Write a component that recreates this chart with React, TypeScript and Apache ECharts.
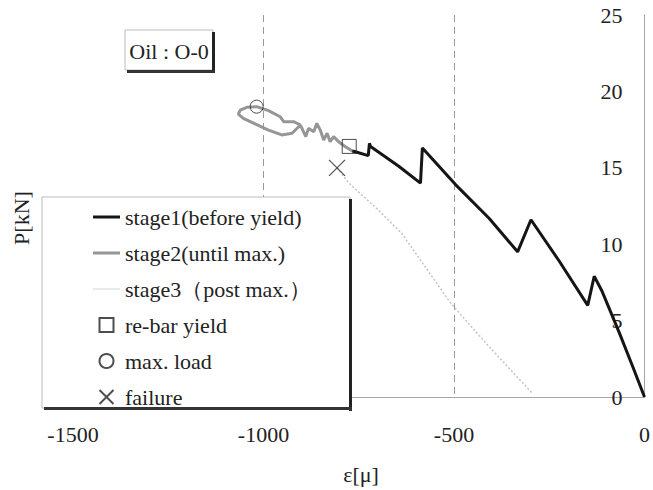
import React, { useEffect, useRef } from "react";
import * as echarts from "echarts";

// strain [μ] and load [kN]
const stage1Strain = [0, -31, -66, -111, -132, -149, -224, -298, -333, -408, -496, -583, -588, -645, -719, -722, -725, -759, -767];
const stage1Load = [0, 2.0, 4.2, 6.9, 7.9, 6.0, 8.9, 11.6, 9.5, 11.7, 13.9, 16.3, 14.0, 15.1, 16.4, 16.6, 15.8, 16.05, 16.1];

const stage2Strain = [-767, -785, -803, -816, -825, -833, -842, -851, -860, -868, -882, -889, -903, -925, -952, -987, -1022, -1053, -1066, -1061, -1044, -1018, -987, -956, -947, -921, -903];
const stage2Load = [16.1, 16.38, 16.71, 17.04, 16.71, 17.26, 16.82, 17.47, 17.91, 17.36, 17.58, 17.04, 17.8, 17.26, 17.15, 17.47, 17.87, 18.24, 18.52, 18.78, 18.96, 19.0, 18.74, 18.34, 18.02, 18.02, 17.8];

const stage3Strain = [-807, -776, -697, -637, -509, -408, -295];
const stage3Load = [15.0, 14.0, 12.2, 10.7, 6.15, 3.3, 0.26];

const yieldPoint = [-775, 16.4];
const maxPoint = [-1018, 19.0];
const failurePoint = [-807, 15.0];

const xTicks = [-1500, -1000, -500, 0];
const yTicks = [0, 5, 10, 15, 20, 25];

const seriesNames = [
  "stage1(before yield)",
  "stage2(until max.)",
  "stage3（post max.）",
  "re-bar yield",
  "max. load",
  "failure",
];

const FONT = "Liberation Serif";
const TXT = "#222";

const zip = (xs: number[], ys: number[]) => xs.map((x, i) => [x, ys[i]]);
const fmt = (v: number) => String(v);

export default function App() {
  const ref = useRef<HTMLDivElement>(null);
  useEffect(() => {
    document.body.style.margin = "0";
    const chart = echarts.init(ref.current!, null, { renderer: "svg" });
    const xInterval = xTicks[1] - xTicks[0];
    const yInterval = yTicks[1] - yTicks[0];
    const lineIcon = (h: number) => `path://M0,0H27V${h}H0Z`;
    const option: any = {
      animation: false,
      backgroundColor: "#fff",
      textStyle: { fontFamily: FONT },
      grid: { left: 73, right: 8, top: 15, bottom: 93 },
      xAxis: [
        {
          type: "value",
          min: xTicks[0],
          max: xTicks[xTicks.length - 1],
          interval: xInterval,
          position: "bottom",
          axisLine: { show: true, lineStyle: { color: "#999", width: 1 } },
          axisTick: { show: false },
          axisLabel: { fontFamily: FONT, fontSize: 22, color: TXT, margin: 26, formatter: fmt },
          splitLine: { show: true, showMinLine: false, showMaxLine: false, lineStyle: { color: "#999", width: 1, type: [7, 5] } },
        },
        {
          type: "value",
          min: xTicks[0],
          max: xTicks[xTicks.length - 1],
          interval: xInterval,
          position: "top",
          axisLine: { show: true, lineStyle: { color: "#aaa", width: 1, type: "dotted" } },
          axisTick: { show: false },
          axisLabel: { show: false },
          splitLine: { show: false },
        },
      ],
      yAxis: [
        {
          type: "value",
          min: yTicks[0],
          max: yTicks[yTicks.length - 1],
          interval: yInterval,
          position: "right",
          axisLine: { show: true, lineStyle: { color: "#888", width: 1 } },
          axisTick: { show: false },
          axisLabel: { inside: true, fontFamily: FONT, fontSize: 22, color: TXT, margin: 22, formatter: fmt },
          splitLine: { show: false },
        },
        {
          type: "value",
          min: yTicks[0],
          max: yTicks[yTicks.length - 1],
          interval: yInterval,
          position: "left",
          axisLine: { show: true, lineStyle: { color: "#aaa", width: 1, type: "dotted" } },
          axisTick: { show: false },
          axisLabel: { show: false },
          splitLine: { show: false },
        },
      ],
      legend: {
        orient: "vertical",
        left: 93,
        top: 206,
        padding: 0,
        itemWidth: 27,
        itemHeight: 14,
        itemGap: 14,
        selectedMode: false,
        z: 60,
        textStyle: { fontFamily: FONT, fontSize: 22, color: TXT, lineHeight: 22 },
        data: [
          { name: seriesNames[0], icon: lineIcon(3) },
          { name: seriesNames[1], icon: lineIcon(3) },
          { name: seriesNames[2], icon: lineIcon(1.5) },
          { name: seriesNames[3], icon: "path://M0,0H10V10H0Z" },
          { name: seriesNames[4] },
          { name: seriesNames[5] },
        ],
      },
      graphic: [
        // legend frame
        { type: "rect", z: 50, shape: { x: 42, y: 197, width: 308, height: 211 }, style: { fill: "#fff", stroke: "#bbb", lineWidth: 1 } },
        { type: "rect", z: 51, shape: { x: 349, y: 199, width: 3, height: 212 }, style: { fill: "#222" } },
        { type: "rect", z: 51, shape: { x: 44, y: 407, width: 308, height: 3 }, style: { fill: "#333" } },
        // title box
        { type: "rect", z: 50, shape: { x: 125, y: 30, width: 88, height: 40 }, style: { fill: "#fff", stroke: "#bbb", lineWidth: 1 } },
        { type: "rect", z: 51, shape: { x: 212, y: 32, width: 3, height: 41 }, style: { fill: "#222" } },
        { type: "rect", z: 51, shape: { x: 127, y: 70, width: 88, height: 3 }, style: { fill: "#333" } },
        { type: "text", z: 52, x: 169, y: 51, style: { text: "Oil : O-0", fontFamily: FONT, fontSize: 22, fill: TXT, align: "center", verticalAlign: "middle" } },
        // axis names
        { type: "text", z: 52, x: 21, y: 218, rotation: Math.PI / 2, style: { text: "P[kN]", fontFamily: FONT, fontSize: 22, fill: TXT, align: "center", verticalAlign: "middle" } },
        { type: "text", z: 52, x: 361, y: 474, style: { text: "ε[μ]", fontFamily: FONT, fontSize: 22, fill: TXT, align: "center", verticalAlign: "middle" } },
      ],
      series: [
        {
          name: seriesNames[2],
          type: "line",
          data: zip(stage3Strain, stage3Load),
          showSymbol: false,
          symbol: "none",
          z: 2,
          lineStyle: { color: "#c4c4c4", width: 1.5, type: [2, 2] },
          itemStyle: { color: "#e2e2e2" },
        },
        {
          name: seriesNames[1],
          type: "line",
          data: zip(stage2Strain, stage2Load),
          showSymbol: false,
          symbol: "none",
          z: 3,
          lineStyle: { color: "#969696", width: 3 },
          itemStyle: { color: "#969696" },
        },
        {
          name: seriesNames[0],
          type: "line",
          data: zip(stage1Strain, stage1Load),
          showSymbol: false,
          symbol: "none",
          z: 4,
          lineStyle: { color: "#151515", width: 3 },
          itemStyle: { color: "#151515" },
        },
        {
          name: seriesNames[3],
          type: "scatter",
          data: [yieldPoint],
          symbol: "rect",
          symbolSize: 14,
          z: 5,
          itemStyle: { color: "rgba(255,255,255,0)", borderColor: "#222", borderWidth: 1 },
        },
        {
          name: seriesNames[4],
          type: "scatter",
          data: [maxPoint],
          symbol: "circle",
          symbolSize: 13,
          z: 5,
          itemStyle: { color: "rgba(255,255,255,0)", borderColor: "#222", borderWidth: 1 },
        },
        {
          name: seriesNames[5],
          type: "scatter",
          data: [failurePoint],
          symbol: "path://M0,0L10,10M10,0L0,10",
          symbolSize: 16,
          z: 5,
          itemStyle: { color: "rgba(255,255,255,0)", borderColor: "#222", borderWidth: 1.2 },
        },
      ],
    };
    chart.setOption(option);
    return () => chart.dispose();
  }, []);
  return <div ref={ref} style={{ width: 653, height: 490 }} />;
}
